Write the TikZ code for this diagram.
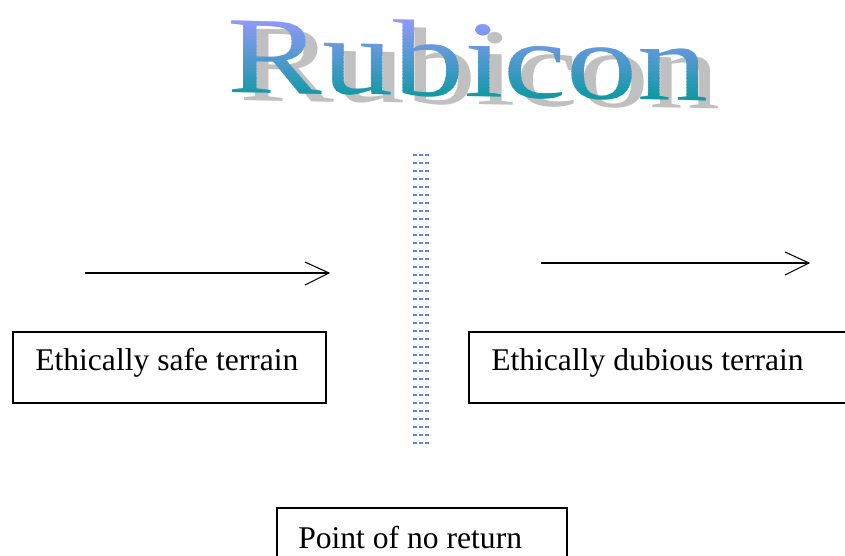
\documentclass[tikz,border=0pt]{standalone}
\usepackage{fontspec}
\setmainfont{Liberation Serif}
\definecolor{rtop}{RGB}{153,153,255}
\definecolor{rbot}{RGB}{0,153,153}
\definecolor{shadowgray}{RGB}{192,192,192}
\definecolor{dotblue}{RGB}{95,130,250}
\begin{document}
\begin{tikzpicture}[x=0.75pt,y=-0.75pt,
  box/.style={draw=black,line width=1pt,inner sep=0pt},
  lbl/.style={font=\fontsize{23.7pt}{28pt}\selectfont,inner sep=0pt,anchor=base west},
  arr/.style={line width=1.1pt},
  barb/.style={line width=0.8pt},
  rubi/.style={font=\fontsize{82pt}{90pt}\selectfont,inner sep=0pt,anchor=base west,xscale=1.30,yslant=-0.025,transform shape},
  dots/.style={draw=dotblue,line width=1.7pt,dash pattern=on 3pt off 1.5pt}]
\clip (0,0) rectangle (845,556);
\fill[white] (0,0) rectangle (845,556);
% title shadow
\node[rubi,text=shadowgray] (rubshadow) at (239,100) {Rubicon};
% title gradient (strips)
\foreach \i in {0,...,29}{
  \pgfmathsetmacro\p{100-\i*100/29}
  \pgfmathsetmacro\ya{14+\i*3.2}
  \begin{scope}
    \clip (0,\ya) rectangle (845,\ya+3.4);
    \node[rubi,text=rtop!\p!rbot] (rub\i) at (227,92) {Rubicon};
  \end{scope}
}
% divider
\foreach \k in {0,...,36}{
  \draw[dots] (412.5,155+8*\k) -- (429.5,155+8*\k);
}
% arrows
\coordinate (a1s) at (85,273);
\coordinate (a1e) at (329,273);
\draw[arr] (a1s) -- (a1e);
\draw[barb] (305,262) -- (a1e) -- (305,285);
\coordinate (a2s) at (541,263);
\coordinate (a2e) at (809,263);
\draw[arr] (a2s) -- (a2e);
\draw[barb] (785,252) -- (a2e) -- (785,275);
% boxes
\node[box,minimum width=313*0.75pt,minimum height=71*0.75pt] (safe) at (169.5,367.5) {};
\node[lbl] (safet) at (35,370) {Ethically safe terrain};
\node[box,minimum width=391*0.75pt,minimum height=71*0.75pt] (dub) at (664.5,367.5) {};
\node[lbl] (dubt) at (491,370) {Ethically dubious terrain};
\node[box,minimum width=290*0.75pt,minimum height=67*0.75pt] (pnr) at (422,541.5) {};
\node[lbl] (pnrt) at (298,548) {Point of no return};
\end{tikzpicture}
\end{document}
